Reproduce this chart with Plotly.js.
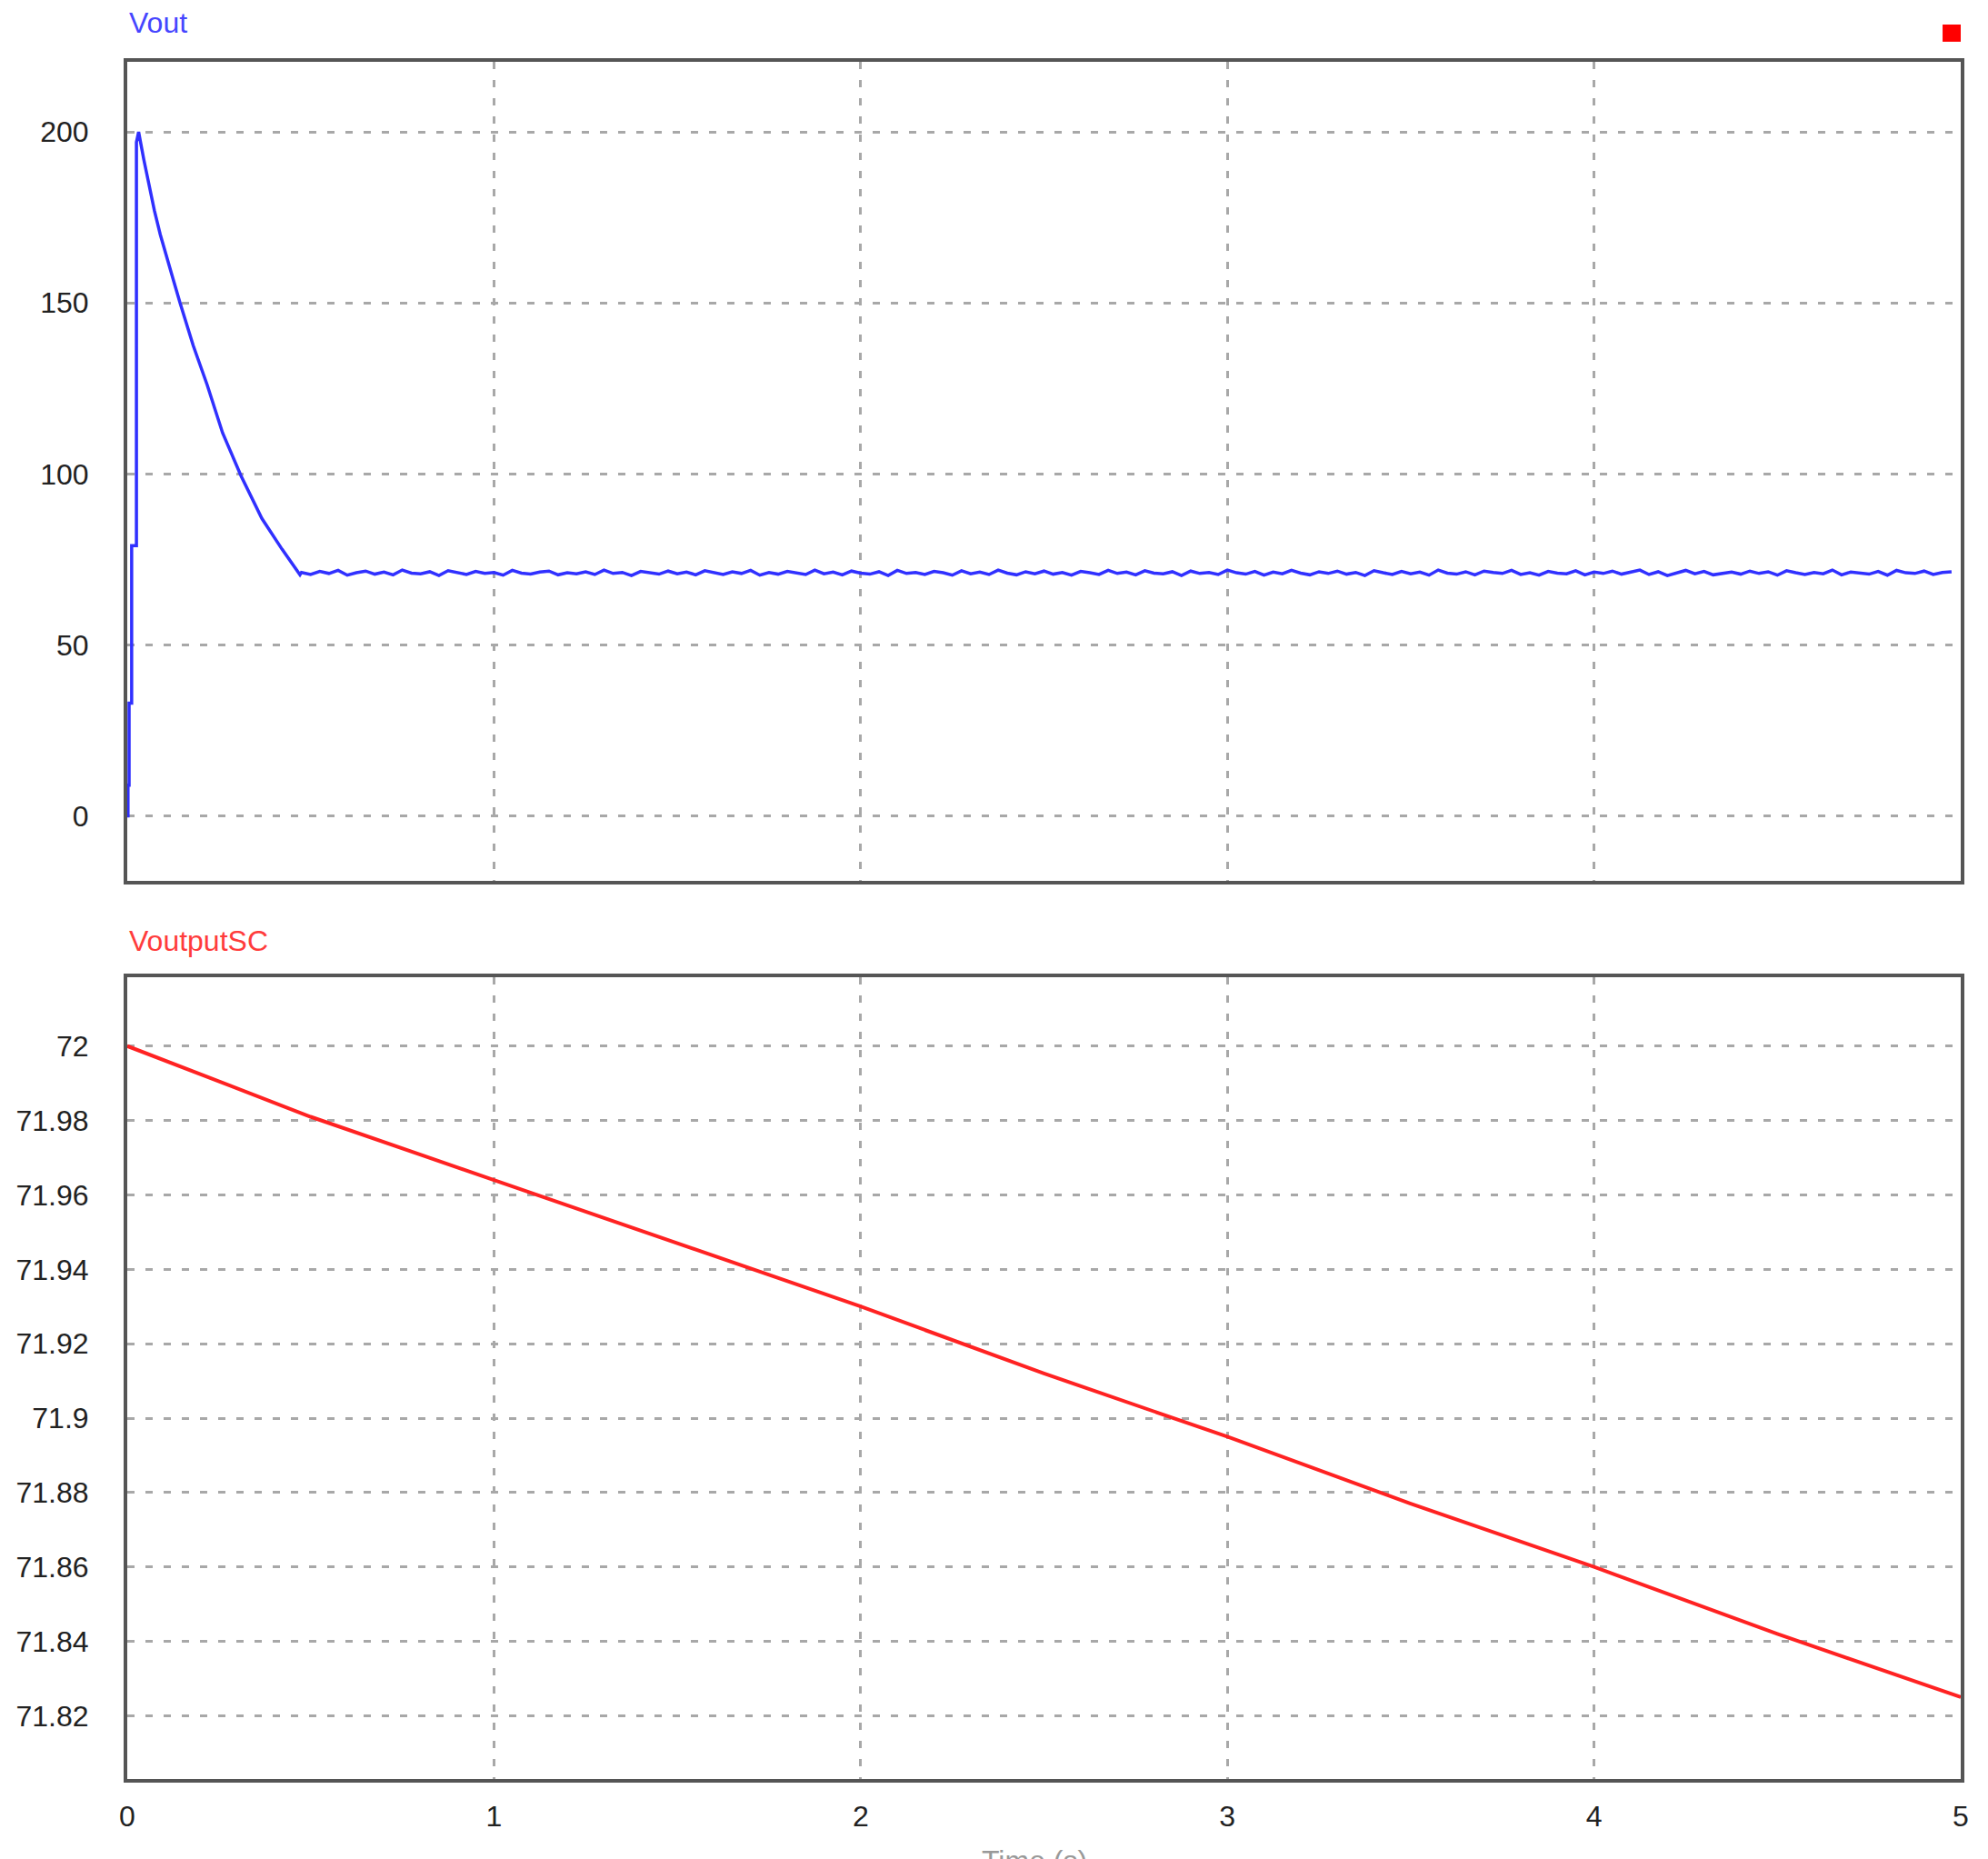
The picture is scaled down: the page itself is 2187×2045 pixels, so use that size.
<!DOCTYPE html>
<html>
<head>
<meta charset="utf-8">
<script src="https://cdn.plot.ly/plotly-3.0.1.min.js"></script>
<style>html,body{margin:0;padding:0;background:#fff;}#chart{width:2187px;height:2045px;}</style>
</head>
<body>
<div id="chart"></div>
<script>
// ---- Data ----
// Vout start-up transient (time in s, value in V)
const voutTransientT = [0, 0.002, 0.002, 0.005, 0.005, 0.012, 0.012, 0.025, 0.025, 0.031, 0.045, 0.060, 0.074, 0.090, 0.107, 0.125, 0.144, 0.180, 0.218, 0.260, 0.310, 0.367, 0.422, 0.471];
const voutTransientV = [0, 0, 9, 9, 33, 33, 79, 79, 197, 200, 192, 184, 177, 170, 164, 157, 150, 137.5, 126, 112, 99.5, 87, 78, 70.5];
// Vout steady state ripple, sampled from t = 0.475 s every 0.025 s
const voutPlateauStart = 0.475;
const voutPlateauStep = 0.025;
const voutPlateauV = [
71.2,70.6,71.5,70.9,71.8,70.4,71.1,71.6,70.7,71.3,
70.5,71.9,71.0,70.8,71.4,70.3,71.7,71.1,70.6,71.5,
70.9,71.2,70.4,71.8,71.0,70.7,71.3,71.6,70.5,71.1,
70.8,71.4,70.6,71.9,70.9,71.2,70.3,71.5,71.0,70.7,
71.6,70.8,71.3,70.5,71.7,71.1,70.6,71.4,70.9,71.8,
70.4,71.2,70.7,71.5,71.0,70.6,71.9,70.8,71.3,70.5,
71.6,71.0,70.7,71.4,70.3,71.8,70.9,71.2,70.6,71.5,
71.1,70.4,71.7,70.8,71.3,70.6,71.9,71.0,70.5,71.4,
70.8,71.6,70.7,71.2,70.4,71.5,71.1,70.6,71.8,70.9,
71.3,70.5,71.7,71.0,70.8,71.4,70.3,71.6,70.9,71.2,
70.6,71.9,71.1,70.7,71.5,70.4,71.3,70.8,71.8,71.0,
70.5,71.4,70.9,71.6,70.7,71.2,70.3,71.7,71.1,70.6,
71.5,70.8,71.3,70.4,71.9,71.0,70.7,71.4,70.5,71.6,
71.2,70.9,71.8,70.6,71.1,70.4,71.5,71.0,70.8,71.7,
70.5,71.3,70.9,71.6,70.7,71.2,71.9,70.6,71.4,70.3,
71.1,71.8,70.8,71.5,70.5,71.0,71.3,70.7,71.6,70.9,
71.4,70.4,71.7,71.1,70.6,71.2,70.8,71.9,70.5,71.3,
71.0,70.7,71.5,70.4,71.8,71.1,70.9,71.6,70.6,71.2,
71.4
];
// VoutputSC (supercapacitor output voltage)
const scT = [0, 0.5, 1, 1.5, 2, 2.5, 3, 3.5, 4, 4.5, 5];
const scV = [72.000, 71.981, 71.964, 71.947, 71.930, 71.912, 71.895, 71.877, 71.860, 71.842, 71.825];
// Tick labels
const xTicks = [0, 1, 2, 3, 4, 5];
const xTickText = ['0', '1', '2', '3', '4', '5'];
const voutTicks = [0, 50, 100, 150, 200];
const voutTickText = ['0', '50', '100', '150', '200'];
const scTicks = [71.82, 71.84, 71.86, 71.88, 71.9, 71.92, 71.94, 71.96, 71.98, 72];
const scTickText = ['71.82', '71.84', '71.86', '71.88', '71.9', '71.92', '71.94', '71.96', '71.98', '72'];

// ---- Build traces ----
const voutT = voutTransientT.slice();
const voutV = voutTransientV.slice();
voutPlateauV.forEach((v, i) => { voutT.push(voutPlateauStart + i * voutPlateauStep); voutV.push(v); });

const FONT = 'Liberation Sans, Arial, sans-serif';
const tickFont = {family: FONT, size: 32, color: '#222222'};
const gridCommon = {
  showgrid: true, gridcolor: '#a8a8a8', gridwidth: 3, griddash: '8px,12px',
  showline: true, linecolor: '#555555', linewidth: 4, mirror: true,
  zeroline: false, ticks: '', tickfont: tickFont
};

const traces = [
  {x: voutT, y: voutV, type: 'scatter', mode: 'lines', xaxis: 'x', yaxis: 'y',
   line: {color: '#3030ff', width: 3.5}, hoverinfo: 'skip'},
  {x: scT, y: scV, type: 'scatter', mode: 'lines', xaxis: 'x2', yaxis: 'y2',
   line: {color: '#ff2222', width: 4}, hoverinfo: 'skip'}
];

const layout = {
  width: 2187, height: 2045,
  margin: {l: 140, r: 30, t: 68, b: 88},
  paper_bgcolor: '#ffffff', plot_bgcolor: '#ffffff',
  showlegend: false,
  xaxis: Object.assign({}, gridCommon, {domain: [0, 1], range: [0, 5], anchor: 'y',
    tickvals: xTicks, ticktext: xTickText, showticklabels: false}),
  yaxis: Object.assign({}, gridCommon, {domain: [0.5230, 1], range: [-19, 220.5], anchor: 'x',
    tickvals: voutTicks, ticktext: voutTickText, ticklabelstandoff: 32}),
  xaxis2: Object.assign({}, gridCommon, {domain: [0, 1], range: [0, 5], anchor: 'y2',
    tickvals: xTicks, ticktext: xTickText, ticklabelstandoff: 10}),
  yaxis2: Object.assign({}, gridCommon, {domain: [0, 0.4669], range: [71.803, 72.0185], anchor: 'x2',
    tickvals: scTicks, ticktext: scTickText, ticklabelstandoff: 32}),
  annotations: [
    {text: 'Vout', xref: 'paper', yref: 'paper', x: 0, y: 1.0228, xanchor: 'left', yanchor: 'middle',
     showarrow: false, font: {family: FONT, size: 32, color: '#4646ff'}},
    {text: 'VoutputSC', xref: 'paper', yref: 'paper', x: 0, y: 0.4881, xanchor: 'left', yanchor: 'middle',
     showarrow: false, font: {family: FONT, size: 32, color: '#ff3c3c'}},
    {text: 'Time (s)', xref: 'paper', yref: 'paper', x: 0.4948, y: -0.0372, xanchor: 'center', yanchor: 'top',
     showarrow: false, font: {family: FONT, size: 32, color: '#999999'}}
  ],
  shapes: [
    {type: 'rect', xref: 'paper', yref: 'paper', x0: 0.9901, x1: 1.0, y0: 1.0117, y1: 1.0217,
     fillcolor: '#ff0000', line: {width: 0}}
  ]
};

Plotly.newPlot('chart', traces, layout, {staticPlot: true, displayModeBar: false});
</script>
</body>
</html>
